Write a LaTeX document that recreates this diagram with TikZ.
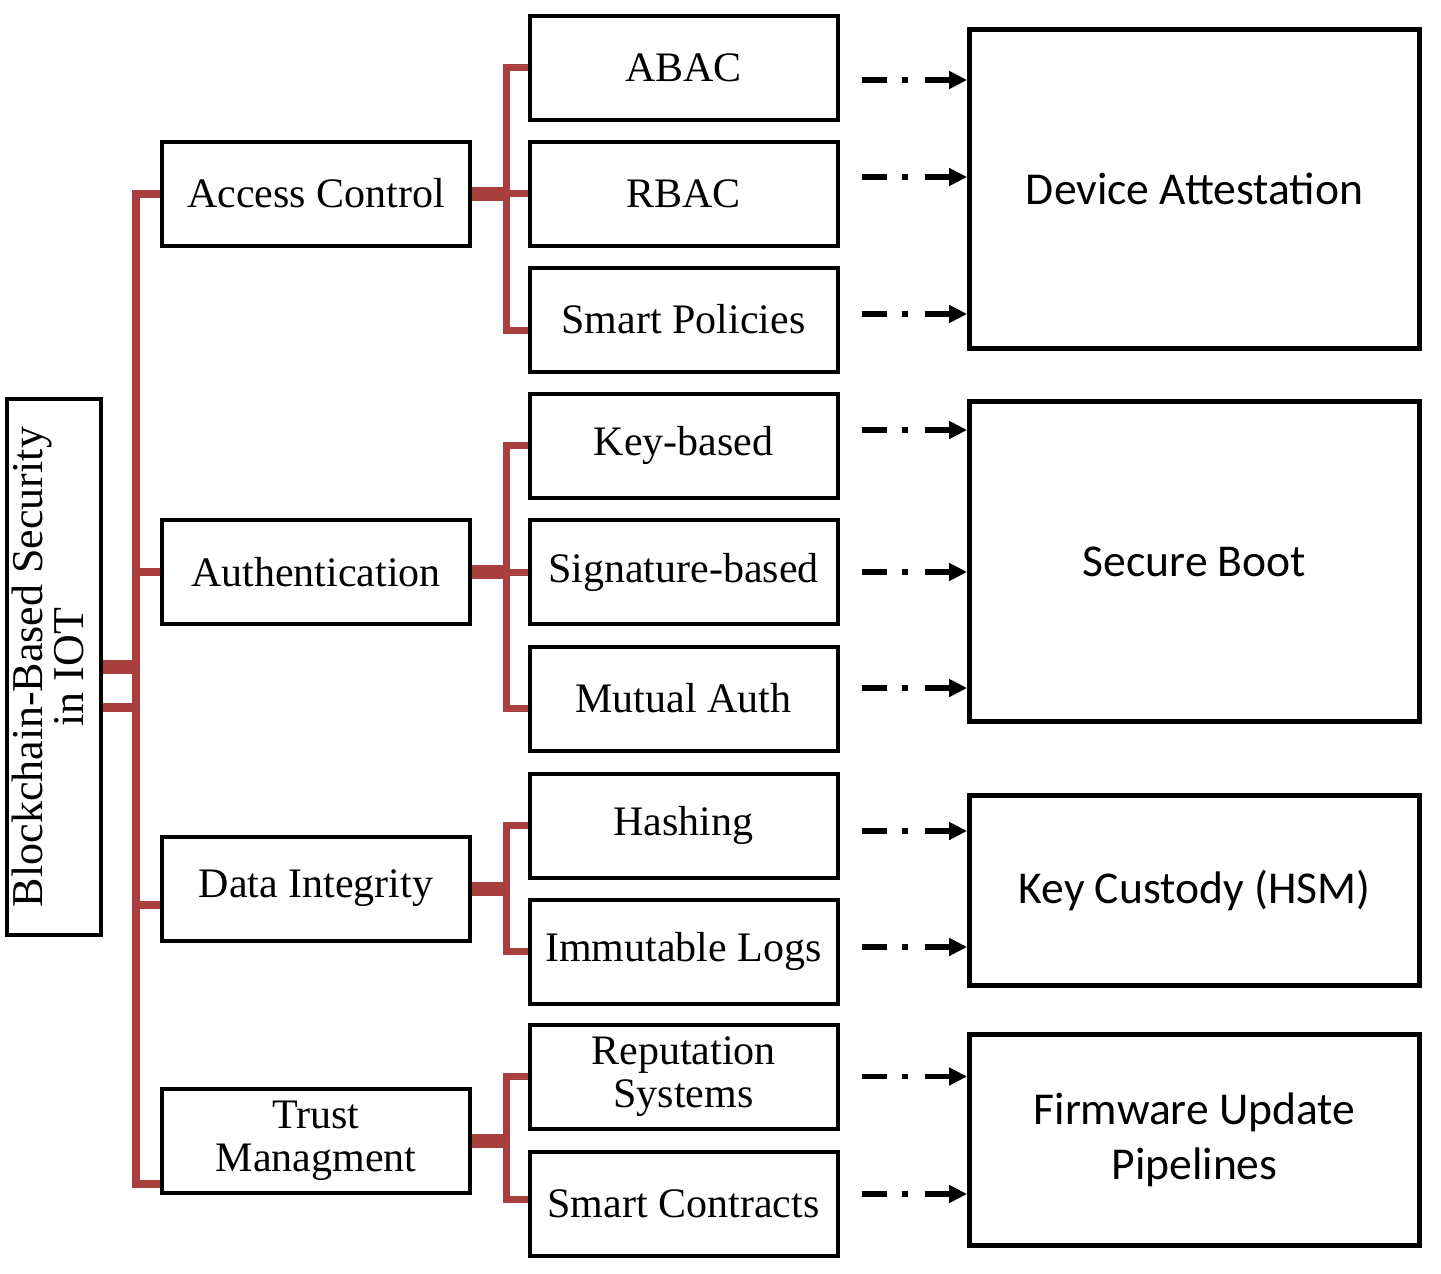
\documentclass[tikz,border=0pt]{standalone}
\usepackage{fontspec}
\setmainfont{Liberation Serif}
\newfontfamily\calib{Carlito}
\usetikzlibrary{arrows.meta}
\definecolor{busred}{RGB}{168,62,62}

\begin{document}
\begin{tikzpicture}[x=0.5pt,y=-0.5pt]
        \tikzstyle{box}=[draw,line width=2pt,inner sep=2pt,align=center,font=\fontsize{21}{21.5}\selectfont]
        \tikzstyle{cat}=[box,minimum width=154pt,minimum height=52pt]
        \tikzstyle{leaf}=[cat]
        \tikzstyle{goal}=[draw,line width=2.4pt,minimum width=225pt,align=center,font=\calib\fontsize{22.8}{27.5}\selectfont]
        \tikzstyle{bus}=[draw=busred,line width=4pt]
        \tikzstyle{stub}=[draw=busred,line width=7pt]
        \tikzstyle{sbus}=[draw=busred,line width=3.5pt]
        \tikzstyle{flow}=[line width=2.8pt,dash pattern=on 12.5pt off 7.5pt on 3pt off 8.5pt,-{Triangle[length=9pt,width=8.5pt]}]
        \useasboundingbox (0,0) rectangle (1441,1274);
        % root
        \node[box,minimum width=47pt,minimum height=268pt,font=\fontsize{22}{20.5}\selectfont] (root) at (54,667) {\rotatebox{90}{\begin{tabular}{@{}c@{}}Blockchain-Based Security\\in IOT\end{tabular}}};
        % categories
        \node[cat] (access) at (316,193.5) {Access Control};
        \node[cat] (auth) at (316,572) {Authentication};
        \node[cat] (integ) at (316,888.5) {Data Integrity};
        \node[cat] (trust) at (316,1140.5) {Trust\\Managment};
        % mechanisms
        \node[leaf] (abac) at (683.5,67.5) {ABAC};
        \node[leaf] (rbac) at (683.5,193.5) {RBAC};
        \node[leaf] (policy) at (683.5,319.5) {Smart Policies};
        \node[leaf] (keyb) at (683.5,445.5) {Key-based};
        \node[leaf] (sigb) at (683.5,572) {Signature-based};
        \node[leaf] (mutual) at (683.5,698.5) {Mutual Auth};
        \node[leaf] (hash) at (683.5,825.5) {Hashing};
        \node[leaf] (immut) at (683.5,951.5) {Immutable Logs};
        \node[leaf] (reput) at (683.5,1076.5) {Reputation\\Systems};
        \node[leaf] (contract) at (683.5,1203.5) {Smart Contracts};
        % device side
        \node[goal,minimum height=159.6pt] (attest) at (1194.5,189) {Device Attestation};
        \node[goal,minimum height=160pt] (boot) at (1194.5,561.5) {Secure Boot};
        \node[goal,minimum height=95pt] (custody) at (1194.5,890.5) {Key Custody (HSM)};
        \node[goal,minimum height=105.6pt] (firmware) at (1194.5,1140) {Firmware Update\\Pipelines};
        % red tree lines
        \coordinate (trunk) at (136,0);
        \coordinate (sub) at (506,0);
        \draw[stub] (root.east) -- (root.east -| trunk);
        \draw[bus,line width=4.5pt] ([yshift=-20pt]root.east) coordinate (r2) -- (r2 -| trunk);
        \path ([yshift=5.5pt]trust.south west) coordinate (tb) ([yshift=-8pt]integ.west) coordinate (iw);
        \draw[bus] (access.west) -| (trunk |- tb) -- (tb);
        \draw[bus] (auth.west) -- (auth.west -| trunk);
        \draw[bus] (iw) -- (iw -| trunk);
        \foreach \c/\a/\b/\dy in {access/abac/policy/-5.5, auth/keyb/mutual/-5, integ/hash/immut/0, trust/reput/contract/2}{
            \draw[stub] (\c.east) -- (\c.east -| sub);
            \path ([yshift=\dy pt]\b.west) coordinate (bw);
            \draw[sbus] (\a.west) -| (sub |- bw) -- (bw);
        }
        \draw[sbus] (rbac.west -| sub) -- (rbac.west);
        \draw[sbus] (sigb.west -| sub) -- (sigb.west);
        % dash-dot arrows
        \foreach \src/\dst/\dy in {abac/attest/-6.25, rbac/attest/8.25, policy/attest/2.75, keyb/boot/7.75, sigb/boot/0, mutual/boot/5.25, hash/custody/-2.75, immut/custody/2.25, reput/firmware/0, contract/firmware/4.75}
            \draw[flow] ([xshift=11pt,yshift=\dy pt]\src.east) coordinate (s) -- (s -| \dst.west);
\end{tikzpicture}
\end{document}
